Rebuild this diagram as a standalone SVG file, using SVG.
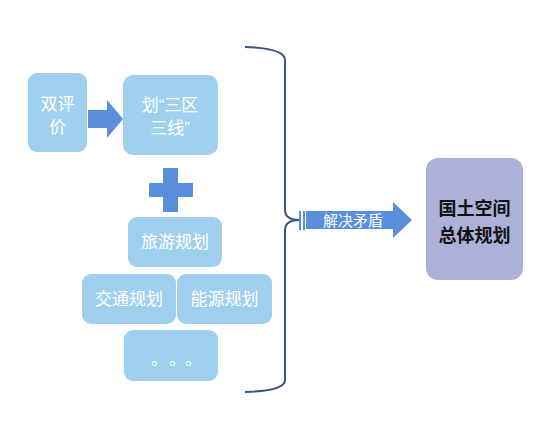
<svg xmlns="http://www.w3.org/2000/svg" width="554" height="422" viewBox="0 0 554 422">
<style>
.box{fill:#9fd1ee;}
.t{font-family:"Liberation Sans","Noto Sans CJK SC",sans-serif;font-size:17px;fill:#ffffff;text-anchor:middle;dominant-baseline:central;}
.tb{font-family:"Noto Sans CJK SC",sans-serif;font-size:18px;font-weight:bold;fill:#111111;text-anchor:middle;dominant-baseline:central;}
.blue{fill:#5a8fdc;}
</style>
<rect width="554" height="422" fill="#ffffff"/>
<g id="node-shuangpingjia">
<rect class="box" x="28" y="73" width="59" height="79" rx="9"/>
<text class="t" x="57.5" y="104">双评</text>
<text class="t" x="57.5" y="127">价</text>
</g>
<g id="node-sanqusanxian">
<rect class="box" x="123" y="75" width="95" height="80" rx="10"/>
<text class="t" x="170" y="105">划“三区</text>
<text class="t" x="170" y="128">三线”</text>
</g>
<g id="node-plus">
<rect class="blue" x="163" y="168" width="15" height="44"/>
<rect class="blue" x="149" y="183" width="44" height="14"/>
</g>
<g id="node-lvyou">
<rect class="box" x="128" y="217" width="94" height="50" rx="9"/>
<text class="t" x="175" y="242">旅游规划</text>
</g>
<g id="node-jiaotong">
<rect class="box" x="82" y="274" width="94" height="50" rx="9"/>
<text class="t" x="129" y="299">交通规划</text>
</g>
<g id="node-nengyuan">
<rect class="box" x="177" y="274" width="95" height="50" rx="9"/>
<text class="t" x="224.5" y="299">能源规划</text>
</g>
<g id="node-more">
<rect class="box" x="124" y="330" width="94" height="51" rx="9"/>
<text class="t" x="151 169 185" y="359" style="text-anchor:start">。。。</text>
</g>
<g id="node-guotu">
<rect x="426" y="158" width="97" height="122" rx="12" fill="#abb1d9"/>
<text class="tb" x="474.5" y="207">国土空间</text>
<text class="tb" x="474.5" y="234">总体规划</text>
</g>
<g id="connectors">
<polygon class="blue" points="88,110 107,110 107,100 123,119 107,138 107,128 88,128"/>
<path d="M245,47 Q285,48 285,60 L285,210 Q285,220 300,220 Q285,220 285,230 L285,380 Q285,391 245,392" fill="none" stroke="#3d5480" stroke-width="2"/>
<rect class="blue" x="299" y="211" width="2" height="19"/>
<rect class="blue" x="303" y="211" width="2" height="19"/>
<polygon class="blue" points="306,211 393,211 393,202 412,220 393,238 393,229 306,229"/>
<text class="t" x="353" y="220" style="font-size:15px">解决矛盾</text>
</g>
</svg>
